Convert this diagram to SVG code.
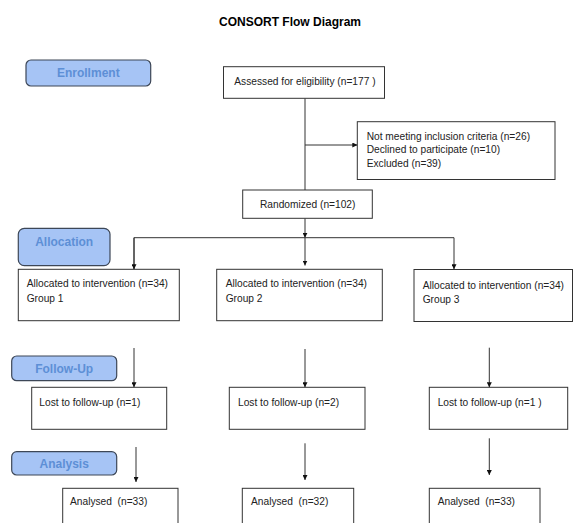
<svg xmlns="http://www.w3.org/2000/svg" width="576" height="523" viewBox="0 0 576 523">
<style>
.bg{fill:#ffffff}
.title{font-family:"Liberation Sans",Arial,sans-serif;font-weight:bold;font-size:12px;fill:#000;text-anchor:middle}
.stage rect{fill:#a6c4f5;stroke:#3d4757;stroke-width:1.2}
.stage text{font-family:"Liberation Sans",Arial,sans-serif;font-weight:bold;font-size:12px;fill:#5d8fd6;text-anchor:middle}
.box rect{fill:#ffffff;stroke:#333333;stroke-width:1}
.box text{font-family:"Liberation Sans",Arial,sans-serif;font-size:10.2px;fill:#222222;white-space:pre}
.conn{fill:none;stroke:#333333;stroke-width:1}
</style>
<defs>
<marker id="arr" viewBox="0 0 6 6" refX="6" refY="3" markerWidth="5" markerHeight="5" markerUnits="userSpaceOnUse" orient="auto">
<path d="M0,0 L6,3 L0,6 z" fill="#111111"/>
</marker>
</defs>
<rect class="bg" x="0" y="0" width="576" height="523"/>
<text class="title" x="290" y="25.5">CONSORT Flow Diagram</text>

<g id="stage-enrollment" class="stage"><rect x="26" y="60" width="124.7" height="26" rx="5"/><text x="88.3" y="77.3">Enrollment</text></g>
<g id="stage-allocation" class="stage"><rect x="18.3" y="228.3" width="91.7" height="37.4" rx="6"/><text x="64.2" y="246">Allocation</text></g>
<g id="stage-followup" class="stage"><rect x="11.7" y="356" width="105" height="24.7" rx="5"/><text x="64.2" y="373.3">Follow-Up</text></g>
<g id="stage-analysis" class="stage"><rect x="11.7" y="451.7" width="105" height="23.3" rx="5"/><text x="64.2" y="468.3">Analysis</text></g>

<g id="connectors">
<path class="conn" d="M305,98.3 V190"/>
<path class="conn" d="M305,145 H357.3" marker-end="url(#arr)"/>
<path class="conn" d="M305,218.3 V237.7" marker-end="url(#arr)"/>
<path class="conn" d="M305,237.7 V265.5" marker-end="url(#arr)"/>
<path class="conn" d="M134,269.3 V237.7 H454 V269.3" marker-end="url(#arr)"/>
<path class="conn" d="M134,237.7 V269.3" marker-end="url(#arr)"/>
<path class="conn" d="M134,348 V387.3" marker-end="url(#arr)"/>
<path class="conn" d="M305,349 V387.3" marker-end="url(#arr)"/>
<path class="conn" d="M489.3,347.7 V387.3" marker-end="url(#arr)"/>
<path class="conn" d="M136,447 V482" marker-end="url(#arr)"/>
<path class="conn" d="M305,443.3 V480" marker-end="url(#arr)"/>
<path class="conn" d="M489.3,438.3 V475" marker-end="url(#arr)"/>
</g>

<g id="assessed" class="box"><rect x="223.5" y="66.7" width="161" height="31.6"/><text x="234.3" y="84.8">Assessed for eligibility (n=177 )</text></g>
<g id="excluded" class="box"><rect x="357.3" y="121.7" width="197.7" height="57.8"/>
<text x="366.7" y="140">Not meeting inclusion criteria (n=26)</text>
<text x="366.7" y="153.3">Declined to participate (n=10)</text>
<text x="366.7" y="166.7">Excluded (n=39)</text></g>
<g id="randomized" class="box"><rect x="242.7" y="190" width="129.6" height="28.3"/><text x="260" y="208.3">Randomized (n=102)</text></g>

<g id="group1" class="box"><rect x="18.3" y="269.3" width="161" height="51.4"/><text x="26.7" y="287">Allocated to intervention (n=34)</text><text x="26.7" y="301.5">Group 1</text></g>
<g id="group2" class="box"><rect x="216.7" y="269.3" width="165.6" height="51.4"/><text x="225.7" y="287">Allocated to intervention (n=34)</text><text x="225.7" y="301.5">Group 2</text></g>
<g id="group3" class="box"><rect x="414" y="269.5" width="158.5" height="52"/><text x="422.7" y="288.5">Allocated to intervention (n=34)</text><text x="422.7" y="303">Group 3</text></g>

<g id="lost1" class="box"><rect x="31.7" y="387.3" width="135" height="42"/><text x="39.3" y="406">Lost to follow-up (n=1)</text></g>
<g id="lost2" class="box"><rect x="229.3" y="387.3" width="135.7" height="42"/><text x="238" y="406">Lost to follow-up (n=2)</text></g>
<g id="lost3" class="box"><rect x="429.3" y="387.3" width="138.4" height="42"/><text x="437.7" y="406">Lost to follow-up (n=1 )</text></g>

<g id="analysed1" class="box"><rect x="62.7" y="488.3" width="115.3" height="45"/><text x="70" y="505">Analysed  (n=33)</text></g>
<g id="analysed2" class="box"><rect x="242.3" y="488.3" width="111.4" height="45"/><text x="251" y="505">Analysed  (n=32)</text></g>
<g id="analysed3" class="box"><rect x="429.3" y="488.3" width="110.7" height="45"/><text x="437.7" y="505">Analysed  (n=33)</text></g>
</svg>
